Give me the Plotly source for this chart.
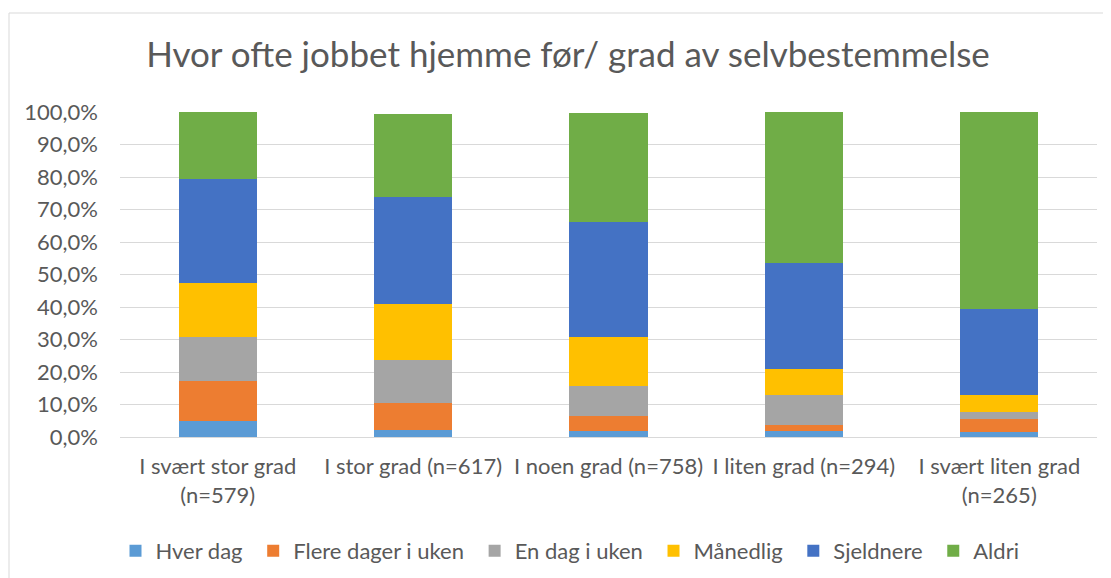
import plotly.graph_objects as go

categories = ["I svært stor grad<br>(n=579)", "I stor grad (n=617)", "I noen grad (n=758)",
              "I liten grad (n=294)", "I svært liten grad<br>(n=265)"]
series_names = ["Hver dag", "Flere dager i uken", "En dag i uken", "Månedlig", "Sjeldnere", "Aldri"]
hver_dag = [0.049, 0.023, 0.020, 0.020, 0.015]
flere_dager = [0.123, 0.083, 0.044, 0.018, 0.039]
en_dag = [0.137, 0.132, 0.093, 0.091, 0.023]
maanedlig = [0.166, 0.172, 0.152, 0.080, 0.051]
sjeldnere = [0.319, 0.327, 0.354, 0.325, 0.266]
aldri = [0.206, 0.258, 0.334, 0.466, 0.606]
colors = ["#5B9BD5", "#ED7D31", "#A5A5A5", "#FFC000", "#4472C4", "#70AD47"]
values = [hver_dag, flere_dager, en_dag, maanedlig, sjeldnere, aldri]

FONT = "Lato"
TXT = "#595959"
NBSP = "\u00a0"

fig = go.Figure()
for name, vals, col in zip(series_names, values, colors):
    fig.add_trace(go.Bar(x=categories, y=vals, name=name + NBSP, marker_color=col,
                         marker_line_width=0))

# page is offset by the 8px body margin
OFF = 8
W, H = 1111 - OFF, 578 - OFF
PL, PR, PT, PB = 120, 1097, 112, 437  # plot area in page pixels
L = PL - OFF
R = W - (PR - OFF)
T = PT - OFF
B = H - (PB - OFF)
pw = PR - PL
ph = PB - PT

def px_x(x):
    return (x - PL) / pw

def px_y(y):
    return (PB - y) / ph

fig.update_layout(
    width=W, height=H,
    barmode="stack", bargap=0.6,
    margin=dict(l=L, r=R, t=T, b=B, autoexpand=False),
    paper_bgcolor="white", plot_bgcolor="white",
    font=dict(family=FONT, color=TXT, size=22),
    separators=", ",
    title=dict(text="Hvor ofte jobbet hjemme før/ grad av selvbestemmelse",
               x=(568 - OFF) / W, xanchor="center", y=1 - (55 - OFF) / H, yanchor="middle",
               font=dict(size=35, color=TXT, family=FONT)),
    legend=dict(orientation="h", xref="container", yref="container",
                x=(573 - OFF) / W, xanchor="center", y=1 - (551 - OFF) / H, yanchor="middle",
                font=dict(size=22, color=TXT), traceorder="normal"),
    showlegend=True,
)
fig.update_yaxes(range=[0, 1.0], tickformat=".1%", dtick=0.1, showgrid=True,
                 gridcolor="#D9D9D9", gridwidth=1, zeroline=False, showline=False,
                 ticks="", ticklabelstandoff=21, tickfont=dict(size=22, color=TXT))
fig.update_xaxes(showline=True, linecolor="#D9D9D9", linewidth=1, ticks="",
                 ticklabelstandoff=10, tickfont=dict(size=22, color=TXT))

fig.add_shape(type="rect", xref="paper", yref="paper",
              x0=px_x(9), x1=px_x(1130), y0=px_y(600), y1=px_y(13),
              line=dict(color="#D9D9D9", width=1), fillcolor="rgba(0,0,0,0)", layer="below")

fig.write_html("out.html")
